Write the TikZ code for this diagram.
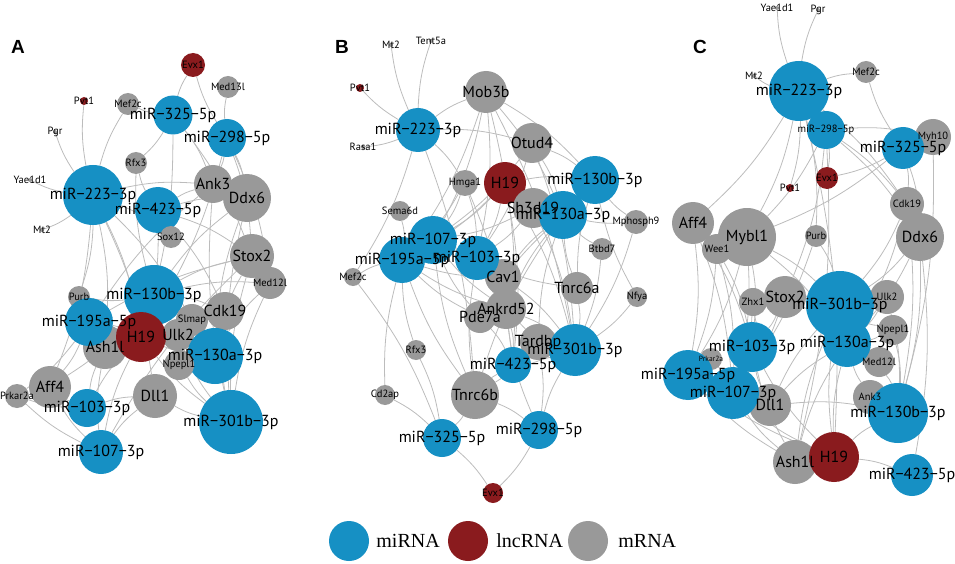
\documentclass[tikz,border=0pt]{standalone}
\usepackage{fontspec}
\setmainfont{Liberation Serif}
\newfontfamily\labfont{PT Sans}
\newfontfamily\panfont{Liberation Sans}
\usetikzlibrary{positioning}

\definecolor{miblue}{RGB}{22,144,196}
\definecolor{lncred}{RGB}{138,27,30}
\definecolor{mrgray}{RGB}{153,153,153}
\definecolor{linkgray}{RGB}{188,188,188}

\pgfdeclarelayer{bg}
\pgfsetlayers{bg,main}

\tikzset{
  mi/.style={circle,fill=miblue,inner sep=0pt,minimum size=#1},
  lnc/.style={circle,fill=lncred,inner sep=0pt,minimum size=#1},
  mr/.style={circle,fill=mrgray,inner sep=0pt,minimum size=#1},
  link/.style={every edge/.style={draw=linkgray,line width=0.8pt,bend left=8}},
  lb/.style={font=\labfont\fontsize{16}{16}\selectfont,inner sep=0pt},
  lm/.style={font=\labfont\fontsize{10.5}{10.5}\selectfont,inner sep=0pt},
  ls/.style={font=\labfont\fontsize{7.5}{7.5}\selectfont,inner sep=0pt},
  panel/.style={font=\panfont\bfseries\fontsize{19}{19}\selectfont},
  keytext/.style={font=\fontsize{20}{20}\selectfont,inner sep=0pt}
}

\begin{document}
\begin{tikzpicture}[x=1pt,y=-1pt]
\useasboundingbox (0,0) rectangle (955,564);

% panel A
\node[panel] at (18,47) {A};
\node[lnc=24] (aEvx) at (193,65) {};
\node[mr=22] (aMed13l) at (228,87) {};
\node[lnc=8] (aPvt) at (84,101) {};
\node[mr=22] (aMef2c) at (128,104) {};
\node[mi=39] (a325) at (173,115) {};
\node[mi=38] (a298) at (227,138) {};
\node[mr=4] (aPgr) at (55,132) {};
\node[mr=22] (aRfx3) at (136,163) {};
\node[mr=4] (aYae) at (30,180) {};
\node[mi=60] (a223) at (93,195) {};
\node[mr=38] (aAnk3) at (213,184) {};
\node[mr=48] (aDdx6) at (247,198) {};
\node[mi=46] (a423) at (158,210) {};
\node[mr=4] (aMt2) at (42,230) {};
\node[mr=22] (aSox12) at (171,237) {};
\node[mr=44] (aStox2) at (252,256) {};
\node[mr=32] (aMed12l) at (270,283) {};
\node[mi=60] (a130b) at (154,295) {};
\node[mr=22] (aPurb) at (79,297) {};
\node[mr=38] (aCdk19) at (225,311) {};
\node[mr=32] (aSlmap) at (192,320) {};
\node[mr=32] (aUlk2) at (178,335) {};
\node[mr=44] (aAsh1l) at (105,347) {};
\node[mi=48] (a195) at (89,322) {};
\node[lnc=50] (aH19) at (141,337) {};
\node[mi=56] (a130a) at (215,356) {};
\node[mr=30] (aNpepl1) at (179,365) {};
\node[mr=42] (aAff4) at (50,387) {};
\node[mr=24] (aPrkar) at (17,396) {};
\node[mr=44] (aDll1) at (155,396) {};
\node[mi=38] (a103) at (87,408) {};
\node[mi=64] (a301) at (231,422) {};
\node[mi=44] (a107) at (101,452) {};

% panel B
\node[panel] at (342,47) {B};
\node[mr=4] (bMt2) at (391,45) {};
\node[mr=4] (bTent) at (431,41) {};
\node[lnc=8] (bPvt) at (360,88) {};
\node[mr=4] (bRasa) at (363,147) {};
\node[mi=44] (b223) at (418,130) {};
\node[mr=42] (bMob3b) at (486,92) {};
\node[mr=40] (bOtud4) at (532,143) {};
\node[mr=26] (bHmga1) at (465,183) {};
\node[lnc=42] (bH19) at (505,183) {};
\node[mr=20] (bSema6d) at (400,211) {};
\node[mr=40] (bSh3d19) at (533,208) {};
\node[mi=48] (b130b) at (595,180) {};
\node[mi=48] (b130a) at (563,215) {};
\node[mr=24] (bMph) at (636,222) {};
\node[mr=22] (bBtbd7) at (602,249) {};
\node[mr=36] (bCav1) at (503,277) {};
\node[mi=48] (b107) at (433,240) {};
\node[mi=44] (b103) at (477,258) {};
\node[mi=46] (b195) at (402,260) {};
\node[mr=18] (bMef2c) at (353,277) {};
\node[mr=32] (bTnrc6a) at (577,288) {};
\node[mr=20] (bNfya) at (637,297) {};
\node[mr=32] (bPde7a) at (480,317) {};
\node[mr=40] (bAnkrd) at (506,309) {};
\node[mr=20] (bRfx3) at (416,350) {};
\node[mr=36] (bTardbp) at (538,342) {};
\node[mi=52] (b301) at (575,350) {};
\node[mi=36] (b423) at (513,365) {};
\node[mr=48] (bTnrc6b) at (475,395) {};
\node[mr=20] (bCd2ap) at (385,395) {};
\node[mi=38] (b325) at (442,438) {};
\node[mi=38] (b298) at (539,430) {};
\node[lnc=20] (bEvx) at (493,493) {};

% panel C
\node[panel] at (700,47) {C};
\node[mr=4] (cYae) at (777,8) {};
\node[mr=4] (cPgr) at (818,10) {};
\node[mr=4] (cMt2) at (754,76) {};
\node[mi=60] (c223) at (799,91) {};
\node[mr=22] (cMef2c) at (866,72) {};
\node[mi=38] (c298) at (826,130) {};
\node[mr=36] (cMyh10) at (933,137) {};
\node[mi=42] (c325) at (903,148) {};
\node[lnc=8] (cPvt) at (790,188) {};
\node[lnc=22] (cEvx) at (827,178) {};
\node[mr=34] (cCdk19) at (907,204) {};
\node[mr=42] (cAff4) at (693,223) {};
\node[mr=30] (cWee1) at (717,249) {};
\node[mr=58] (cMybl1) at (747,237) {};
\node[mr=22] (cPurb) at (816,236) {};
\node[mr=48] (cDdx6) at (920,237) {};
\node[mr=28] (cZhx1) at (753,302) {};
\node[mr=42] (cStox2) at (785,297) {};
\node[mr=34] (cUlk2) at (887,297) {};
\node[mr=30] (cNpepl1) at (893,330) {};
\node[mr=30] (cMed12l) at (879,362) {};
\node[mi=68] (c301) at (840,305) {};
\node[mi=48] (c130a) at (847,343) {};
\node[mr=22] (cPrkar) at (711,359) {};
\node[mi=50] (c103) at (752,347) {};
\node[mi=50] (c195) at (688,375) {};
\node[mr=42] (cDll1) at (770,405) {};
\node[mi=52] (c107) at (733,393) {};
\node[mr=34] (cAnk3) at (870,397) {};
\node[mi=60] (c130b) at (898,413) {};
\node[mr=44] (cAsh1l) at (795,462) {};
\node[lnc=50] (cH19) at (834,457) {};
\node[mi=42] (c423) at (912,475) {};

% connections
\begin{pgfonlayer}{bg}
\path[link] (a223) edge (aPvt) edge (aPgr) edge (aYae) edge (aMt2) edge (aMef2c) edge (aAnk3) edge (aPurb) edge (aH19) edge (aAsh1l) edge (aAff4) edge (aDll1) edge (aSlmap) edge (aSox12);
\path[link] (a325) edge (aEvx) edge (aMef2c) edge (aRfx3) edge (aAnk3) edge (aStox2) edge (aH19);
\path[link] (a298) edge (aEvx) edge (aMed13l) edge (aAnk3) edge (aDdx6) edge (aStox2) edge (aMed12l) edge (aH19);
\path[link] (a423) edge (aAnk3) edge (aDdx6) edge (aSox12) edge (aStox2) edge (aCdk19) edge (aRfx3) edge (aH19);
\path[link] (a130b) edge (aStox2) edge (aDdx6) edge (aMed12l) edge (aCdk19) edge (aH19) edge (aPurb) edge (aAff4) edge (aRfx3);
\path[link] (a195) edge (aH19) edge (aPurb) edge (aAff4) edge (aAnk3) edge (aStox2) edge (aPrkar);
\path[link] (a130a) edge (aStox2) edge (aDdx6) edge (aMed12l) edge (aCdk19) edge (aH19) edge (aNpepl1) edge (aUlk2) edge (aSlmap);
\path[link] (a301) edge (aStox2) edge (aMed12l) edge (aCdk19) edge (aDdx6) edge (aDll1) edge (aNpepl1) edge (aUlk2) edge (aH19) edge (aAnk3);
\path[link] (a103) edge (aAff4) edge (aPrkar) edge (aH19) edge (aAsh1l) edge (aDll1);
\path[link] (a107) edge (aAff4) edge (aPrkar) edge (aAsh1l) edge (aDll1) edge (aH19) edge (aStox2);

\path[link] (b223) edge (bMt2) edge (bTent) edge (bPvt) edge (bRasa) edge (bMob3b) edge (bOtud4) edge (bHmga1) edge (bMef2c) edge (bTnrc6b);
\path[link] (bMob3b) edge (b107) edge (b103) edge (b130b) edge (b130a) edge (b301) edge (b423) edge (b195);
\path[link] (bOtud4) edge (b130b) edge (b130a) edge (b301) edge (b107) edge (b103);
\path[link] (bH19) edge (b107) edge (b103) edge (b195) edge (b130a) edge (b130b) edge (b301) edge (b423);
\path[link] (bHmga1) edge (b107) edge (b103) edge (b195) edge (b423);
\path[link] (bSh3d19) edge (b107) edge (b103) edge (b301);
\path[link] (bMph) edge (b130b) edge (b130a) edge (b301);
\path[link] (bBtbd7) edge (b130a) edge (b301);
\path[link] (bSema6d) edge (b195);
\path[link] (bMef2c) edge (b195) edge (b325);
\path[link] (bCav1) edge (b107) edge (b103) edge (b130a) edge (b301) edge (b195);
\path[link] (bTnrc6a) edge (b130a) edge (b130b) edge (b301) edge (b103);
\path[link] (bNfya) edge (b130b) edge (b301);
\path[link] (bAnkrd) edge (b107) edge (b103) edge (b130a) edge (b301) edge (b423) edge (b195);
\path[link] (bPde7a) edge (b195) edge (b107) edge (b130a) edge (b423);
\path[link] (bRfx3) edge (b195) edge (b325);
\path[link] (bTardbp) edge (b103) edge (b130a) edge (b423) edge (b298);
\path[link] (bTnrc6b) edge (b195) edge (b107) edge (b103) edge (b325) edge (b298) edge (b423) edge (b130a) edge (b301);
\path[link] (bCd2ap) edge (b325) edge (b195);
\path[link] (b298) edge (b301) edge (bAnkrd) edge (bEvx);
\path[link] (b325) edge (bEvx);

\path[link] (c223) edge (cYae) edge (cPgr) edge (cMt2) edge (cMef2c) edge (cAff4) edge (cMybl1) edge (cPvt) edge (cPurb) edge (cH19) edge (cCdk19);
\path[link] (c298) edge (cMyh10) edge (cCdk19) edge (cDdx6) edge (cMybl1) edge (cStox2) edge (cAsh1l) edge (cEvx);
\path[link] (c325) edge (cMef2c) edge (cEvx) edge (cCdk19) edge (cDdx6) edge (cMybl1);
\path[link] (cMyh10) edge (c130b);
\path[link] (cAff4) edge (c195) edge (c107) edge (c103);
\path[link] (cMybl1) edge (c103) edge (c107) edge (c195) edge (c301) edge (c130a);
\path[link] (cWee1) edge (c195) edge (c107) edge (c103);
\path[link] (cCdk19) edge (c301) edge (c130a) edge (c130b);
\path[link] (cDdx6) edge (c301) edge (c130a) edge (c130b) edge (c423);
\path[link] (cZhx1) edge (c103) edge (c107);
\path[link] (cStox2) edge (c301) edge (c103) edge (c107) edge (c130a);
\path[link] (cUlk2) edge (c301) edge (c130a) edge (c130b);
\path[link] (cNpepl1) edge (c301) edge (c130a) edge (c130b);
\path[link] (cMed12l) edge (c130a) edge (c130b) edge (c301);
\path[link] (cPrkar) edge (c195) edge (c107);
\path[link] (cDll1) edge (c103) edge (c107) edge (c195) edge (c301) edge (c130a) edge (c130b);
\path[link] (cAnk3) edge (c130b) edge (c130a);
\path[link] (cAsh1l) edge (c195) edge (c107) edge (c103) edge (c130a) edge (c301);
\path[link] (cH19) edge (c107) edge (c103) edge (c301) edge (c130a) edge (c130b) edge (c423) edge (c195);
\path[link] (cPurb) edge (c301) edge (c107);
\end{pgfonlayer}

% labels
\foreach \n/\t in {a223/miR−223−3p,a325/miR−325−5p,a298/miR−298−5p,a423/miR−423−5p,
  a130b/miR−130b−3p,a195/miR−195a−5p,a130a/miR−130a−3p,a103/miR−103−3p,a301/miR−301b−3p,
  a107/miR−107−3p,aAnk3/Ank3,aDdx6/Ddx6,aStox2/Stox2,aCdk19/Cdk19,aUlk2/Ulk2,aAsh1l/Ash1l,
  aH19/H19,aAff4/Aff4,aDll1/Dll1,
  b223/miR−223−3p,b130b/miR−130b−3p,b130a/miR−130a−3p,b107/miR−107−3p,b103/miR−103−3p,
  b195/miR−195a−5p,b301/miR−301b−3p,b423/miR−423−5p,b325/miR−325−5p,b298/miR−298−5p,
  bMob3b/Mob3b,bOtud4/Otud4,bH19/H19,bSh3d19/Sh3d19,bCav1/Cav1,bTnrc6a/Tnrc6a,
  bAnkrd/Ankrd52,bPde7a/Pde7a,bTardbp/Tardbp,bTnrc6b/Tnrc6b,
  c223/miR−223−3p,c325/miR−325−5p,c301/miR−301b−3p,c130a/miR−130a−3p,c103/miR−103−3p,
  c195/miR−195a−5p,c107/miR−107−3p,c130b/miR−130b−3p,c423/miR−423−5p,
  cAff4/Aff4,cMybl1/Mybl1,cDdx6/Ddx6,cStox2/Stox2,cDll1/Dll1,cAsh1l/Ash1l,cH19/H19}
  \node[lb] at (\n) {\t};
\foreach \n/\t in {aEvx/Evx1,aMed13l/Med13l,aPvt/Pvt1,aMef2c/Mef2c,aPgr/Pgr,aRfx3/Rfx3,
  aYae/Yae1d1,aMt2/Mt2,aSox12/Sox12,aMed12l/Med12l,aPurb/Purb,aSlmap/Slmap,
  aNpepl1/Npepl1,aPrkar/Prkar2a,
  bMt2/Mt2,bTent/Tent5a,bPvt/Pvt1,bRasa/Rasa1,bHmga1/Hmga1,bSema6d/Sema6d,
  bMph/Mphosph9,bBtbd7/Btbd7,bMef2c/Mef2c,bNfya/Nfya,bRfx3/Rfx3,bCd2ap/Cd2ap,bEvx/Evx1,
  cYae/Yae1d1,cPgr/Pgr,cMt2/Mt2,cMef2c/Mef2c,c298/miR−298−5p,cMyh10/Myh10,cPvt/Pvt1,
  cEvx/Evx1,cCdk19/Cdk19,cWee1/Wee1,cPurb/Purb,cZhx1/Zhx1,cUlk2/Ulk2,cNpepl1/Npepl1,
  cMed12l/Med12l,cAnk3/Ank3}
  \node[lm] at (\n) {\t};
\node[ls] at (cPrkar) {Prkar2a};

% legend
\node[mi=40] (kmi) at (349,541) {};
\node[lnc=40] (klnc) at (468,541) {};
\node[mr=40] (kmr) at (588,541) {};
\node[keytext,right=7pt of kmi] {miRNA};
\node[keytext,right=8pt of klnc] {lncRNA};
\node[keytext,right=10pt of kmr] {mRNA};

\end{tikzpicture}
\end{document}
